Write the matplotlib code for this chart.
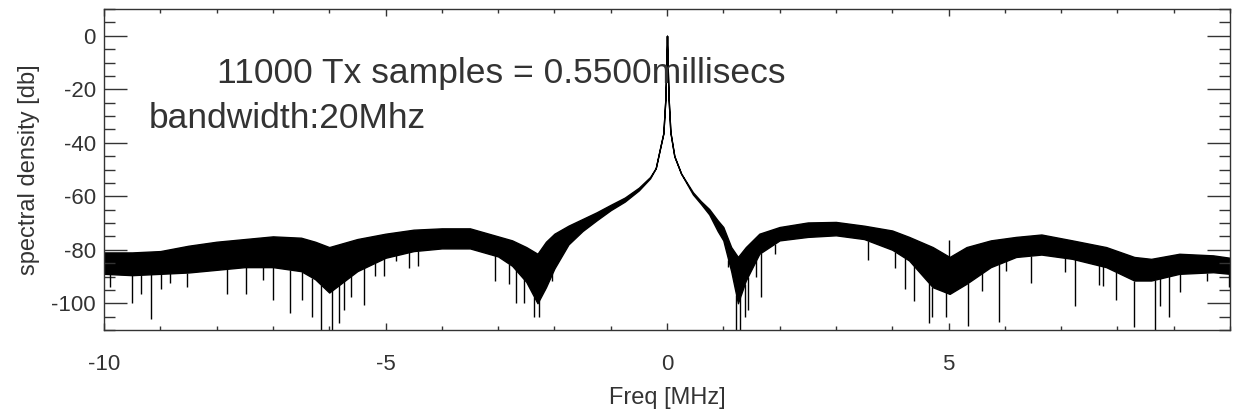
import numpy as np
import matplotlib.pyplot as plt
from matplotlib.ticker import MultipleLocator

# envelope of the dense part of the spectrum
freq = [-10.0, -9.5, -9.0, -8.5, -8.0, -7.5, -7.0, -6.5, -6.25, -6.0, -5.75, -5.5,
        -5.0, -4.5, -4.0, -3.5, -3.0, -2.75, -2.5, -2.3, -2.15, -2.0, -1.75, -1.5,
        -1.25, -1.0, -0.75, -0.5, -0.3, -0.2, -0.13, -0.065, -0.03, -0.012, 0.0,
        0.012, 0.03, 0.06, 0.13, 0.25, 0.46, 0.6, 0.75, 0.9, 1.0, 1.14, 1.26, 1.4,
        1.64, 2.0, 2.5, 3.0, 3.5, 4.0, 4.3, 4.72, 5.02, 5.32, 5.75, 6.2, 6.65, 7.2,
        7.8, 8.3, 8.6, 9.1, 9.7, 10.0]
top = [-81, -81, -80.5, -78.5, -77, -76, -75, -75.5, -77, -79, -77.5, -76,
       -74, -72.5, -72, -72, -75, -76.5, -79, -81.5, -77, -74, -71, -68.5,
       -66, -63.2, -60.5, -56.8, -52.8, -49.5, -42.7, -36.5, -24, -11.5, 0,
       -11.5, -24, -36, -45, -51.5, -58.5, -61.8, -64.8, -69, -71.5, -79, -82.7, -79,
       -74, -71.5, -69.8, -69.6, -71, -72.8, -75.2, -79, -82.7, -79, -76.5, -75.2, -74.3, -76.5,
       -79, -82.7, -83.4, -81.5, -82.1, -83]
bottom = [-89, -89.5, -89, -88.5, -87.5, -86.5, -86.5, -88, -91, -96, -92, -88,
          -83, -80.5, -79.5, -79.5, -82.5, -86, -92, -100, -94, -87, -78, -73,
          -69, -65.2, -62, -57.8, -53.3, -49.5, -42.7, -36.5, -24, -11.5, 0,
          -11.5, -24, -36, -45, -51.5, -59.3, -62.8, -66.8, -73, -76.5, -88, -100, -91.5,
          -81.5, -76.5, -75.2, -74.6, -76, -80, -84, -94, -96.5, -92.7, -86.5, -82.7, -81.8, -83.4,
          -86.5, -91.5, -91.5, -89, -88.4, -89]

# isolated spikes sticking out of the band
spike_f = [-9.9, -9.5, -9.34, -9.17, -8.98, -8.82, -8.53, -7.82, -7.47, -7.17, -6.99,
           -6.69, -6.48, -6.3, -6.15, -5.95, -5.83, -5.74, -5.61, -5.39, -5.18, -5.02,
           -4.82, -4.58, -4.42, -3.06, -2.81, -2.69, -2.54, -2.36, -2.27, -2.18, -2.04,
           1.09, 1.23, 1.3, 1.38, 1.43, 1.58, 1.67, 1.91, 3.57, 4.05, 4.22, 4.38, 4.65,
           4.71, 4.95, 5.0, 5.34, 5.59, 5.9, 6.03, 6.47, 7.07, 7.24, 7.67, 7.74, 7.98,
           8.3, 8.66, 8.76, 8.92, 9.12, 9.59, 9.99]
spike_db = [-94, -100, -96.5, -106, -94.5, -92.5, -94, -96.5, -96.5, -91.3, -98.7,
            -103.7, -98.7, -105, -110, -110, -107.5, -102.5, -97.5, -100.6, -89.9, -89.9,
            -84.2, -86.8, -86, -91.5, -92.7, -100, -100, -105, -105, -94, -91.5,
            -86.5, -110, -110, -105, -102.5, -90, -97.5, -81.5, -84, -87, -94.5, -99, -107.4,
            -105, -105, -76.3, -108.5, -95.6, -107, -88, -92.5, -88.5, -101, -93, -93.7, -98.7,
            -108.7, -110, -101, -105, -95.8, -91.5, -94]

plt.rcParams['font.family'] = ['Liberation Sans', 'DejaVu Sans']
plt.rcParams['axes.unicode_minus'] = False

fig = plt.figure(figsize=(12.33, 4.17), dpi=100)
ax = fig.add_axes([104 / 1233, 87 / 417, 1126 / 1233, 321 / 417])

ax.fill_between(freq, bottom, top, color='black', linewidth=1.0)
spike_start = np.interp(spike_f, freq, bottom)
ax.vlines(spike_f, spike_start, spike_db, color='black', linewidth=1.0)

ax.set_xlim(-10, 10)
ax.set_ylim(-110, 10)
ax.set_xticks([-10, -5, 0, 5])
ax.xaxis.set_minor_locator(MultipleLocator(1))
ax.set_yticks([0, -20, -40, -60, -80, -100])
ax.yaxis.set_minor_locator(MultipleLocator(5))

ax.tick_params(axis='both', which='both', direction='in', top=True, right=True,
               colors='#333333', labelsize=16, width=1.0)
ax.tick_params(axis='y', which='major', length=16.5, pad=6)
ax.tick_params(axis='y', which='minor', length=8)
ax.tick_params(axis='x', which='major', length=5, pad=17)
ax.tick_params(axis='x', which='minor', length=3)
for s in ax.spines.values():
    s.set_color('#333333')
    s.set_linewidth(1.0)

ax.set_xlabel('Freq [MHz]', fontsize=17, color='#333333', labelpad=9)
ax.set_ylabel('spectral density [db]', fontsize=17, color='#333333', labelpad=8)

ax.text(-8.0, -17.6, '11000 Tx samples = 0.5500millisecs', fontsize=25.5, color='#333333')
ax.text(-9.21, -34.5, 'bandwidth:20Mhz', fontsize=25.5, color='#333333')

fig.savefig('out.png', dpi=100)
